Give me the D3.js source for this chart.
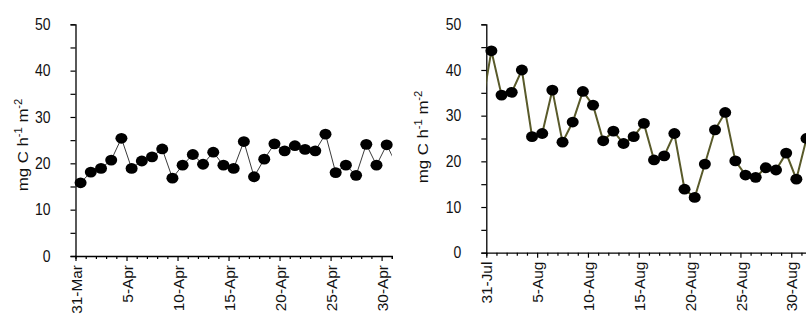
<!DOCTYPE html>
<html>
<head>
<meta charset="utf-8">
<script src="https://cdn.jsdelivr.net/npm/d3@7"></script>
<style>
  body { margin: 0; background: #fff; }
  svg text { font-family: Arial, "Liberation Sans", sans-serif; fill: #111; }
</style>
</head>
<body>
<svg width="806" height="323"></svg>
<script>
// Data =====================================================

// April panel: daily values from 31-Mar (last one falls past the axis end)
var aprStart = "2015-03-31";
var aprValues = [15.8, 18.1, 18.9, 20.7, 25.4, 18.9, 20.5, 21.4, 23.1, 16.8,
                 19.6, 21.9, 19.8, 22.4, 19.6, 18.9, 24.7, 17.1, 20.9, 24.2,
                 22.7, 23.8, 23.0, 22.7, 26.3, 18.0, 19.6, 17.4, 24.1, 19.6,
                 24.0, 19.5];
var aprTicks = ["31-Mar", "5-Apr", "10-Apr", "15-Apr", "20-Apr", "25-Apr", "30-Apr"];

// August panel: daily values from 30-Jul (first one falls before the axis start)
var augStart = "2015-07-30";
var augValues = [31.1, 44.2, 34.5, 35.1, 40.0, 25.4, 26.1, 35.6, 24.2, 28.6,
                 35.3, 32.3, 24.5, 26.6, 23.9, 25.4, 28.3, 20.3, 21.2, 26.1,
                 13.9, 12.1, 19.4, 26.9, 30.7, 20.1, 17.0, 16.5, 18.6, 18.1,
                 21.8, 16.1, 25.0];
var augTicks = ["31-Jul", "5-Aug", "10-Aug", "15-Aug", "20-Aug", "25-Aug", "30-Aug"];

var yTicks = [0, 5, 10, 15, 20, 25, 30, 35, 40, 45, 50];

// Helpers ==================================================

var svg = d3.select("svg");
var parseDay = d3.timeParse("%Y-%m-%d");
var fmtDay = d3.timeFormat("%-d-%b");

function drawPanel(opt) {
  var g = svg.append("g").attr("class", "panel-" + opt.id);

  var x = d3.scaleTime()
    .domain([parseDay(opt.axisFrom), parseDay(opt.axisTo)])
    .range([opt.left, opt.right]);
  var y = d3.scaleLinear().domain([0, 50]).range([opt.bottom, opt.top]);

  var start = parseDay(opt.dataStart);
  var pts = opt.values.map(function(v, i) {
    var d = d3.timeDay.offset(start, i);
    return { date: d, mid: d3.timeHour.offset(d, 12), value: v };
  });

  // y axis
  var yAxis = g.append("g")
    .attr("transform", "translate(" + opt.left + ",0)")
    .call(d3.axisLeft(y)
      .tickValues(yTicks)
      .tickSize(5)
      .tickPadding(20)
      .tickFormat(function(d) { return d % 10 === 0 ? d : ""; }));
  yAxis.select(".domain").attr("stroke", "#000").attr("stroke-width", 1.3);
  yAxis.selectAll(".tick line").attr("stroke", "#000").attr("stroke-width", 1.2);
  yAxis.selectAll(".tick text")
    .attr("font-size", 14)
    .attr("fill", "#111")
    .attr("transform", "scale(1,1.12)");

  // x axis: a tick at each day boundary, longer at labelled days
  var days = d3.timeDay.range(x.domain()[0], d3.timeDay.offset(x.domain()[1], 1));
  var xAxis = g.append("g")
    .attr("transform", "translate(0," + opt.bottom + ")")
    .call(d3.axisBottom(x)
      .tickValues(days)
      .tickSizeOuter(0)
      .tickSize(3)
      .tickFormat(""));
  xAxis.select(".domain").attr("stroke", "#000").attr("stroke-width", 1.3);
  xAxis.selectAll(".tick line")
    .attr("stroke", "#000")
    .attr("stroke-width", 1.2)
    .attr("y2", function(d) { return opt.ticks.indexOf(fmtDay(d)) >= 0 ? 5 : 3; });

  // rotated date labels at the middle of each labelled day
  g.append("g").selectAll("text")
    .data(days.filter(function(d) { return opt.ticks.indexOf(fmtDay(d)) >= 0; }))
    .enter().append("text")
    .attr("font-size", 14)
    .attr("text-anchor", "end")
    .attr("transform", function(d) {
      return "translate(" + (x(d3.timeHour.offset(d, 12)) + 1) + "," + (opt.bottom + 9) +
             ") rotate(-90) scale(1.1,1)";
    })
    .text(function(d) { return fmtDay(d); });

  // y title with superscripts
  var title = g.append("text")
    .attr("font-size", 15)
    .attr("text-anchor", "middle")
    .attr("transform", "translate(" + opt.titleX + "," + opt.titleY + ") rotate(-90) scale(1.12,1)");
  title.append("tspan").text("mg C h");
  title.append("tspan").attr("font-size", 10).attr("dy", -6).text("-1");
  title.append("tspan").attr("dy", 6).text(" m");
  title.append("tspan").attr("font-size", 10).attr("dy", -6).text("-2");

  // line, clipped to the plot area
  var clipId = "clip-" + opt.id;
  svg.append("clipPath").attr("id", clipId)
    .append("rect")
    .attr("x", opt.left).attr("y", 0)
    .attr("width", opt.right - opt.left).attr("height", opt.bottom);

  var line = d3.line()
    .x(function(d) { return x(d.mid); })
    .y(function(d) { return y(d.value); });

  g.append("path")
    .datum(pts)
    .attr("clip-path", "url(#" + clipId + ")")
    .attr("fill", "none")
    .attr("stroke", opt.lineColor)
    .attr("stroke-width", opt.lineWidth)
    .attr("d", line);

  // markers only for days on the axis
  g.append("g").selectAll("ellipse")
    .data(pts.filter(function(d) { return d.date >= x.domain()[0] && d.date < x.domain()[1]; }))
    .enter().append("ellipse")
    .attr("cx", function(d) { return x(d.mid); })
    .attr("cy", function(d) { return y(d.value); })
    .attr("rx", 6)
    .attr("ry", 5.4)
    .attr("fill", "#000");
}

// Main =====================================================

drawPanel({
  id: "apr",
  axisFrom: "2015-03-31", axisTo: "2015-05-01",
  dataStart: aprStart, values: aprValues, ticks: aprTicks,
  left: 75.5, right: 391.8, top: 24.3, bottom: 256,
  titleX: 28, titleY: 145,
  lineColor: "#3a3a3a", lineWidth: 1
});

drawPanel({
  id: "aug",
  axisFrom: "2015-07-31", axisTo: "2015-09-01",
  dataStart: augStart, values: augValues, ticks: augTicks,
  left: 486.3, right: 811.6, top: 24.3, bottom: 252.7,
  titleX: 428, titleY: 137,
  lineColor: "#595a2a", lineWidth: 2
});
</script>
</body>
</html>
